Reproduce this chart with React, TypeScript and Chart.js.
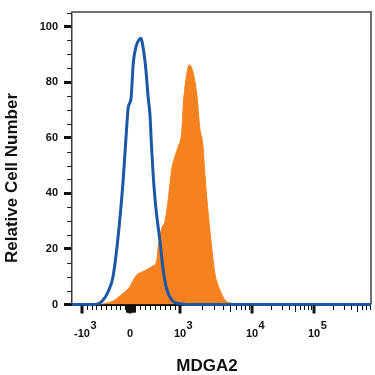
import React, { useEffect, useRef } from 'react';
import { Chart, registerables } from 'chart.js';

Chart.register(...registerables);

// X axis is expressed in display channels (0..1000) of the biexponential axis.
const X_MIN = 0;
const X_MAX = 1000;
const Y_MIN = 0;
const Y_MAX = 105;

// Major x ticks: fluorescence value, its channel, label base and exponent
const xTickValues = [-1000, 0, 1000, 10000, 100000];
const xTickChannels = [33.4, 194.0, 361.2, 602.0, 809.4];
const xTickBase = ['-10', '0', '10', '10', '10'];
const xTickExp = ['3', '', '3', '4', '5'];

const yTickStep = 20;
const yMinorStep = 5;

// Isotype control (blue outline)
const controlX = [0, 76.9, 93.6, 107.0, 120.4, 137.1, 153.8, 170.6, 180.6, 188.3, 197.3, 205.0, 214.0, 222.4, 229.8, 238.5, 247.5, 254.2, 260.9, 265.9, 271.9, 277.6, 283.3, 294.3, 305.4, 316.7, 333.4, 347.8, 367.9, 394.6, 1000];
const controlY = [0, 0, 0.5, 2, 4.5, 10, 24, 44, 60, 71, 74, 87, 92.7, 95, 95.8, 92, 84, 75, 68, 57, 46, 38, 32, 22.7, 12, 5.5, 1.6, 0.6, 0.2, 0, 0];

// MDGA2 stained (orange filled)
const stainedX = [0, 93.6, 107.0, 127.1, 143.8, 157.2, 170.6, 183.9, 194.0, 207.4, 220.7, 237.5, 254.2, 270.9, 283.3, 288.6, 300.0, 311.0, 322.1, 333.4, 344.5, 355.5, 366.9, 372.2, 383.6, 392.3, 403.7, 417.1, 428.1, 437.1, 444.8, 455.9, 467.2, 478.3, 495.0, 511.7, 534.1, 548.5, 1000];
const stainedY = [0, 0, 0.3, 0.8, 1.6, 2.8, 4, 5.2, 6.5, 9.2, 11, 11.8, 12.8, 13.9, 15.7, 21, 27.4, 30, 38, 48.6, 53.3, 57, 62, 72, 82.7, 86.2, 84, 75.7, 63, 58, 46.3, 32.2, 20.4, 11, 5.1, 1.6, 0.4, 0, 0];

const BLUE = '#1c57a6';
const ORANGE = '#f5821f';

function valueToChannel(v: number): number {
  if (v <= 0) {
    return xTickChannels[1] + (v / 1000) * (xTickChannels[1] - xTickChannels[0]);
  }
  if (v <= 1000) {
    return xTickChannels[1] + (v / 1000) * (xTickChannels[2] - xTickChannels[1]);
  }
  const lg = Math.log10(v);
  const d = Math.floor(lg);
  const idx = Math.min(d - 3, 1); // 0 for 10^3..10^4, 1 for 10^4..10^5 and beyond
  const c0 = xTickChannels[2 + idx];
  const c1 = xTickChannels[3 + idx];
  return c0 + (lg - (3 + idx)) * (c1 - c0);
}

function minorTicks(): { v: number; len: number }[] {
  const out: { v: number; len: number }[] = [];
  for (let k = 1; k <= 9; k++) {
    out.push({ v: -k * 100, len: 4.5 });
    out.push({ v: k * 100, len: 4.5 });
    out.push({ v: -k * 10, len: 7 });
    out.push({ v: k * 10, len: 7 });
  }
  for (const dec of [1000, 10000, 100000]) {
    for (let k = 2; k <= 9; k++) {
      out.push({ v: k * dec, len: k === 5 ? 6.5 : 4.5 });
    }
  }
  return out;
}

const decorPlugin = {
  id: 'decor',
  beforeDatasetsDraw(chart: any) {
    const { ctx, chartArea } = chart;
    const { left, right, top, bottom } = chartArea;
    ctx.save();
    ctx.strokeStyle = '#707070';
    ctx.lineWidth = 2;
    ctx.beginPath();
    ctx.moveTo(left - 1, top - 0.5);
    ctx.lineTo(right, top - 0.5);
    ctx.lineTo(right, bottom);
    ctx.stroke();
    ctx.strokeStyle = '#111';
    ctx.lineWidth = 2;
    ctx.beginPath();
    ctx.moveTo(left - 1, bottom + 0.5);
    ctx.lineTo(right, bottom + 0.5);
    ctx.stroke();
    ctx.restore();
  },
  afterDraw(chart: any) {
    const { ctx, chartArea } = chart;
    const { left, right, top, bottom } = chartArea;
    const xs = chart.scales.x;
    const ys = chart.scales.y;
    ctx.save();
    // y minor ticks
    ctx.strokeStyle = '#222';
    ctx.lineWidth = 1;
    for (let v = Y_MIN + yMinorStep; v <= Y_MAX; v += yMinorStep) {
      if (v % yTickStep === 0) continue;
      const py = Math.round(ys.getPixelForValue(v)) + 0.5;
      ctx.beginPath();
      ctx.moveTo(left - 5, py);
      ctx.lineTo(left, py);
      ctx.stroke();
    }
    // x minor ticks
    ctx.strokeStyle = '#111';
    for (const t of minorTicks()) {
      const ch = valueToChannel(t.v);
      if (ch < X_MIN || ch > X_MAX) continue;
      const px = Math.round(xs.getPixelForValue(ch)) + 0.5;
      ctx.lineWidth = 1;
      ctx.beginPath();
      ctx.moveTo(px, bottom + 1);
      ctx.lineTo(px, bottom + 1 + t.len);
      ctx.stroke();
    }
    // x major ticks + labels
    ctx.fillStyle = '#111';
    ctx.font = '700 11px "Liberation Sans", Arial, sans-serif';
    ctx.textBaseline = 'alphabetic';
    for (let i = 0; i < xTickValues.length; i++) {
      const px = xs.getPixelForValue(xTickChannels[i]);
      ctx.lineWidth = 3;
      ctx.beginPath();
      ctx.moveTo(px, bottom + 1);
      ctx.lineTo(px, bottom + 9);
      ctx.stroke();
      const base = xTickBase[i];
      const w = ctx.measureText(base).width;
      ctx.textAlign = 'center';
      ctx.fillText(base, px, 337);
      if (xTickExp[i]) {
        ctx.textAlign = 'left';
        ctx.fillText(xTickExp[i], px + w / 2 + 0.5, 329);
      }
    }
    // axis titles
    ctx.font = '700 17px "Liberation Sans", Arial, sans-serif';
    ctx.textAlign = 'center';
    ctx.textBaseline = 'alphabetic';
    ctx.fillText('MDGA2', 207, 370.5);
    ctx.translate(16.5, 178);
    ctx.rotate(-Math.PI / 2);
    ctx.fillText('Relative Cell Number', 0, 0);
    ctx.restore();
  },
};

export default function App() {
  const ref = useRef<HTMLCanvasElement>(null);
  useEffect(() => {
    if (!ref.current) return;
    const chart = new Chart(ref.current, {
      type: 'line',
      data: {
        datasets: [
          {
            label: 'Isotype control',
            data: controlX.map((x, i) => ({ x, y: controlY[i] })),
            borderColor: BLUE,
            borderWidth: 3,
            fill: false,
            pointRadius: 0,
            cubicInterpolationMode: 'monotone',
            order: 0,
            clip: false,
          } as any,
          {
            label: 'MDGA2',
            data: stainedX.map((x, i) => ({ x, y: stainedY[i] })),
            borderColor: ORANGE,
            backgroundColor: ORANGE,
            borderWidth: 1,
            fill: 'origin',
            pointRadius: 0,
            cubicInterpolationMode: 'monotone',
            order: 1,
          } as any,
        ],
      },
      options: {
        animation: false,
        responsive: false,
        events: [],
        layout: { padding: { top: 6, right: 4, bottom: 70.5, left: 0 } },
        plugins: { legend: { display: false }, tooltip: { enabled: false } },
        scales: {
          x: { type: 'linear', min: X_MIN, max: X_MAX, display: false },
          y: {
            type: 'linear',
            min: Y_MIN,
            max: Y_MAX,
            ticks: {
              stepSize: yTickStep,
              includeBounds: false,
              padding: 6,
              color: '#111',
              font: { family: '"Liberation Sans", Arial, sans-serif', weight: 'bold', size: 11 },
            },
            grid: { drawOnChartArea: false, drawTicks: true, tickLength: 8, tickWidth: 3, tickColor: '#111' },
            border: { display: true, color: '#3a3a3a', width: 1.5 },
            afterFit: (scale: any) => {
              scale.width = 72;
            },
          } as any,
        },
      },
      plugins: [decorPlugin],
    });
    return () => chart.destroy();
  }, []);
  return (
    <div style={{ position: 'fixed', left: 0, top: 0, width: 375, height: 375, background: '#fff' }}>
      <canvas ref={ref} width={375} height={375} style={{ display: 'block', width: 375, height: 375 }} />
    </div>
  );
}
